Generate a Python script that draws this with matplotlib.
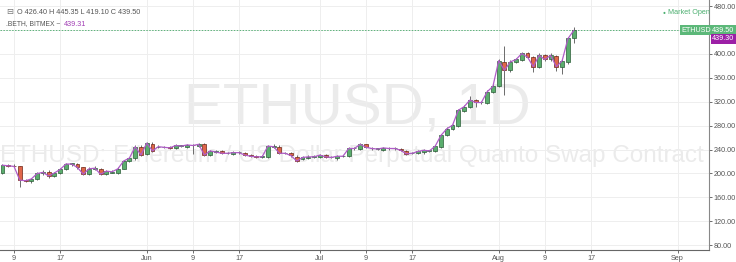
import matplotlib
matplotlib.use("Agg")
import matplotlib.pyplot as plt
import matplotlib.dates as mdates
import numpy as np
import pandas as pd

# ---------------- data ----------------
start_date = "2018-05-07"
opens = [201, 214, 213, 212, 189, 187, 191, 200, 203, 196,
         201, 207, 216, 216, 210, 199, 208, 207, 199, 201,
         201, 208, 221, 225, 245, 232, 250, 244, 244, 244,
         243, 246, 245, 248, 246, 249, 231, 236, 238, 234,
         233, 235, 234, 231, 229, 228, 227, 245, 245, 234,
         234, 228, 224, 226, 228, 227, 231, 227, 225, 229,
         229, 242, 241, 249, 242, 241, 240, 242, 242, 241,
         238, 234, 234, 235, 238, 238, 245, 264, 275, 280,
         305, 311, 323, 319, 318, 336, 346, 387, 373, 387,
         390, 401, 395, 379, 398, 391, 396, 379, 387, 426.40]
closes = [214, 213, 212, 189, 188, 191, 200, 202, 196, 201,
          207, 216, 216, 210, 199, 208, 209, 199, 204, 203,
          208, 221, 226, 245, 231, 251, 238, 245, 244, 243,
          247, 246, 248, 247, 249, 231, 238, 236, 234, 234,
          235, 235, 231, 229, 228, 228, 246, 245, 234, 234,
          230, 221, 227, 228, 228, 231, 228, 227, 229, 229,
          242, 242, 249, 244, 242, 241, 243, 242, 242, 239,
          233, 234, 237, 239, 238, 246, 264, 275, 281, 306,
          312, 323, 319, 319, 337, 346, 389, 373, 387, 391,
          401, 395, 379, 398, 391, 398, 379, 389, 426, 439.50]
highs = [216, 216, 215, 213, 191, 193, 202, 205, 205, 203,
         209, 218, 218, 217, 211, 210, 212, 209, 206, 205,
         210, 223, 228, 247, 247, 253, 253, 247, 246, 246,
         249, 248, 250, 250, 251, 251, 240, 239, 240, 236,
         237, 237, 236, 232, 231, 230, 248, 249, 247, 236,
         236, 230, 229, 230, 230, 233, 232, 229, 231, 231,
         244, 244, 251, 250, 245, 243, 245, 244, 244, 243,
         240, 236, 239, 241, 240, 248, 266, 277, 283, 308,
         315, 330, 325, 322, 339, 349, 392, 413, 390, 394,
         404, 403, 397, 401, 400, 401, 399, 392, 429, 445.35]
lows = [199, 211, 210, 178, 185, 184, 189, 198, 193, 194,
        199, 205, 213, 208, 197, 197, 206, 197, 198, 200,
        199, 207, 219, 223, 229, 230, 236, 242, 242, 241,
        241, 244, 243, 232, 244, 229, 229, 234, 232, 232,
        231, 233, 229, 227, 226, 226, 226, 243, 232, 232,
        228, 219, 222, 224, 226, 225, 226, 225, 223, 227,
        227, 240, 239, 242, 240, 239, 238, 240, 240, 237,
        231, 232, 232, 233, 236, 236, 243, 262, 273, 278,
        302, 309, 311, 316, 316, 334, 344, 332, 370, 385,
        388, 393, 370, 377, 388, 389, 372, 366, 384, 419.10]
index_values = [c - 0.3 for c in closes]  # .BETH index line
index_last = 439.31
index_label = 439.30

y_ticks = [80, 120, 160, 200, 240, 280, 320, 360, 400, 440, 480]
x_tick_dates = ["2018-05-09", "2018-05-17", "2018-06-01", "2018-06-09", "2018-06-17",
                "2018-07-01", "2018-07-09", "2018-07-17", "2018-08-01", "2018-08-09",
                "2018-08-17", "2018-09-01"]
x_tick_labels = ["9", "17", "Jun", "9", "17", "Jul", "9", "17", "Aug", "9", "17", "Sep"]

# ---------------- figure ----------------
plt.rcParams['font.family'] = ['Liberation Sans', 'DejaVu Sans']
W, H = 736, 262
fig = plt.figure(figsize=(W / 100, H / 100), dpi=100)
ax = fig.add_axes([0.0, 1 - 250 / H, 709 / W, 250 / H])

dates = pd.date_range(start_date, periods=len(opens), freq="D")
xd = mdates.date2num(dates.to_pydatetime())
o = np.array(opens, float); c = np.array(closes, float)
h = np.array(highs, float); l = np.array(lows, float)
up = c >= o

up_fill, dn_fill = "#5aad6d", "#e0664a"
up_edge, dn_edge = "#2b5c38", "#6b2416"
wick_col = "#6b6b6b"

# watermark texts
ax.text(0.504, 1 - 109 / 250, "ETHUSD, 1D", transform=ax.transAxes, ha="center", va="center",
        fontsize=42, color="#ebebeb", zorder=0)
ax.text(0.497, 1 - 156 / 250, "ETHUSD: Ethereum / US Dollar Perpetual Quanto Swap Contract",
        transform=ax.transAxes, ha="center", va="center", fontsize=17.5,
        color="#ebebeb", zorder=0)

# wicks
ax.vlines(xd, l, h, color=wick_col, linewidth=0.7, zorder=2)
# bodies
body_bottom = np.minimum(o, c)
body_h = np.maximum(np.abs(c - o), 0.8)
ax.bar(xd[up], body_h[up], bottom=body_bottom[up], width=0.68,
       color=up_fill, edgecolor=up_edge, linewidth=0.5, zorder=3)
ax.bar(xd[~up], body_h[~up], bottom=body_bottom[~up], width=0.68,
       color=dn_fill, edgecolor=dn_edge, linewidth=0.5, zorder=3)

# index line
ax.plot(xd, index_values, color="#b05cc8", linewidth=0.9, zorder=4)

# last price dotted line
ax.axhline(closes[-1], color="#5cb37a", linewidth=0.7, linestyle=(0, (1.5, 1.5)), zorder=1)

# axes ranges
base = mdates.date2num(pd.Timestamp("2018-05-09"))
ax.set_xlim(base - 2.43, base + 120.45)
ax.set_ylim(71.7, 490.4)

ax.yaxis.tick_right()
ax.set_yticks(y_ticks)
ax.set_yticklabels(["%.2f" % v if v != 440 else "" for v in y_ticks])
xt = mdates.date2num(pd.to_datetime(x_tick_dates).to_pydatetime())
ax.set_xticks(xt)
ax.set_xticklabels(x_tick_labels)
ax.tick_params(axis="both", labelsize=5.2, colors="#555555", length=2, width=0.6, pad=1.5)
ax.grid(True, color="#eeeeee", linewidth=0.7, zorder=0)
ax.set_axisbelow(True)
for s in ["top", "left"]:
    ax.spines[s].set_visible(False)
ax.spines["right"].set_color("#888888")
ax.spines["bottom"].set_color("#666666")
ax.spines["right"].set_linewidth(0.8)
ax.spines["bottom"].set_linewidth(0.8)

fs = 5.2
# legend texts top left
fig.text(6 / W, 1 - 12 / H, "\u229f", fontsize=6, color="#777777", va="center", ha="left")
fig.text(17 / W, 1 - 12 / H, "O 426.40 H 445.35 L 419.10 C 439.50", fontsize=fs,
         color="#555555", va="center", ha="left")
fig.text(6 / W, 1 - 24 / H, ".BETH, BITMEX ~", fontsize=4.9, color="#555555",
         va="center", ha="left")
fig.text(64 / W, 1 - 24 / H, "%.2f" % index_last, fontsize=fs, color="#a23fb5",
         va="center", ha="left")

# market open
fig.text(668 / W, 1 - 12 / H, "Market Open", fontsize=fs, color="#4caf70",
         va="center", ha="left")
fig.text(663 / W, 1 - 12 / H, "\u25cf", fontsize=3.5, color="#4caf70",
         va="center", ha="left")

# right-side labels
fig.text(681 / W, 1 - 30 / H, "ETHUSD", fontsize=fs, color="white", va="center", ha="left",
         bbox=dict(boxstyle="square,pad=0.2", fc="#5cb879", ec="none"))
fig.text(712 / W, 1 - 30 / H, "%.2f" % closes[-1], fontsize=fs, color="white", va="center",
         ha="left", bbox=dict(boxstyle="square,pad=0.2", fc="#5cb879", ec="none"))
fig.text(712 / W, 1 - 39 / H, "%.2f" % index_label, fontsize=fs, color="white", va="center",
         ha="left", bbox=dict(boxstyle="square,pad=0.2", fc="#9c1fa6", ec="none"))

fig.savefig("out.png", dpi=100)
